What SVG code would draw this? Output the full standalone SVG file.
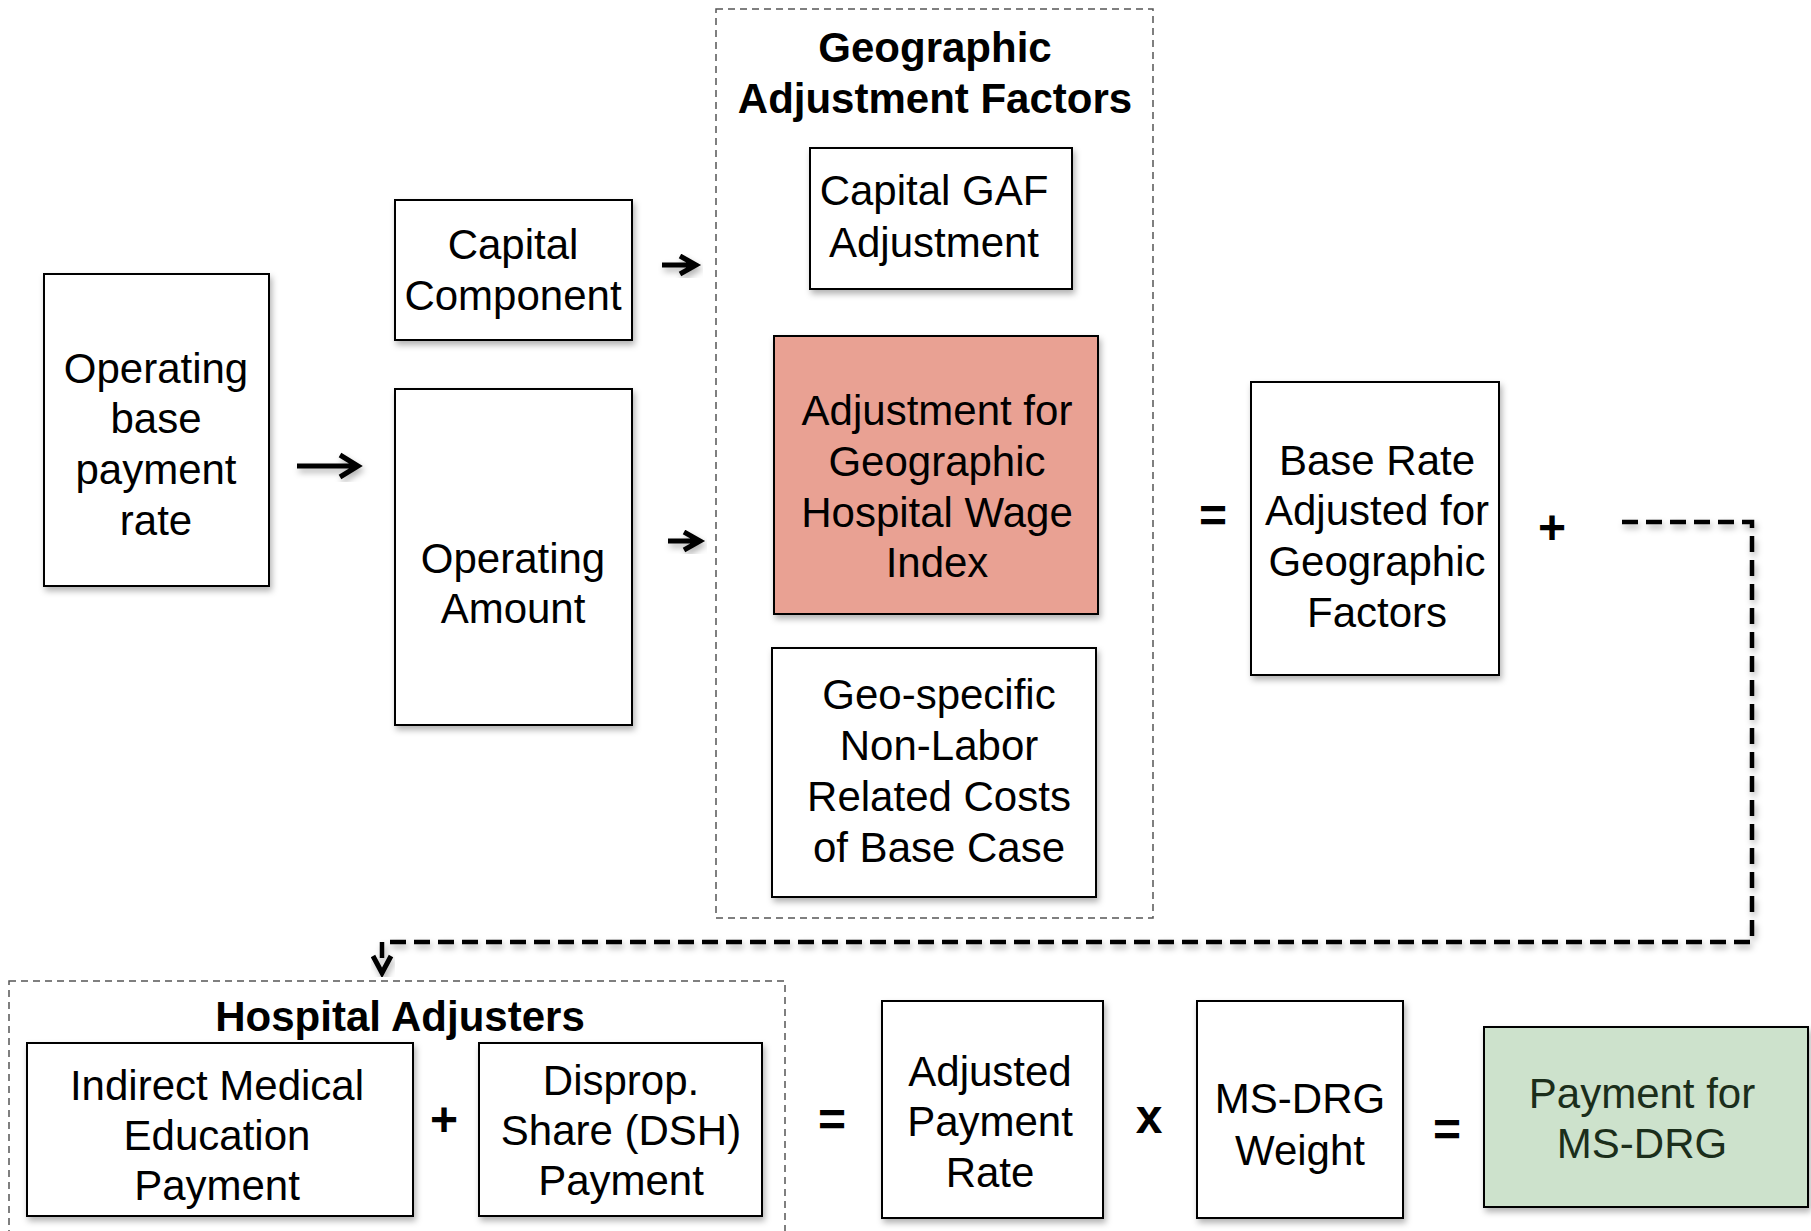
<svg xmlns="http://www.w3.org/2000/svg" width="1811" height="1231" viewBox="0 0 1811 1231">
<defs>
<filter id="sh" x="-10%" y="-10%" width="130%" height="130%">
<feDropShadow dx="2" dy="4" stdDeviation="3" flood-color="#000" flood-opacity="0.3"/>
</filter>
</defs>
<style>
.box{fill:#fff;stroke:#000;stroke-width:2;filter:url(#sh)}
.t{font-family:"Liberation Sans",Arial,sans-serif;font-size:42px;fill:#000;text-anchor:middle}
.b{font-family:"Liberation Sans",Arial,sans-serif;font-size:42px;font-weight:bold;fill:#000;text-anchor:middle}
.op{font-family:"Liberation Sans",Arial,sans-serif;font-size:48px;font-weight:bold;fill:#000;text-anchor:middle}
.grp{fill:none;stroke:#555;stroke-width:1.5;stroke-dasharray:7 5}
.arr{fill:none;stroke:#000;stroke-width:5;stroke-linecap:butt;stroke-linejoin:miter;filter:url(#sh)}
</style>
<rect width="1811" height="1231" fill="#fff"/>

<g id="geo-group">
<rect class="grp" x="716" y="9" width="437" height="909"/>
<text class="b"><tspan x="935" y="62">Geographic</tspan><tspan x="935" y="113">Adjustment Factors</tspan></text>
</g>
<g id="hosp-group">
<rect class="grp" x="9" y="981" width="776" height="270"/>
<text class="b" x="400" y="1031">Hospital Adjusters</text>
</g>

<g id="n-opbase">
<rect class="box" x="44" y="274" width="225" height="312"/>
<text class="t"><tspan x="156" y="383">Operating</tspan><tspan x="156" y="433">base</tspan><tspan x="156" y="484">payment</tspan><tspan x="156" y="535">rate</tspan></text>
</g>
<g id="n-capcomp">
<rect class="box" x="395" y="200" width="237" height="140"/>
<text class="t"><tspan x="513" y="259">Capital</tspan><tspan x="513" y="310">Component</tspan></text>
</g>
<g id="n-opamt">
<rect class="box" x="395" y="389" width="237" height="336"/>
<text class="t"><tspan x="513" y="573">Operating</tspan><tspan x="513" y="623">Amount</tspan></text>
</g>
<g id="n-capgaf">
<rect class="box" x="810" y="148" width="262" height="141"/>
<text class="t"><tspan x="934" y="205">Capital GAF</tspan><tspan x="934" y="257">Adjustment</tspan></text>
</g>
<g id="n-wage">
<rect class="box" x="774" y="336" width="324" height="278" style="fill:#E9A193"/>
<text class="t"><tspan x="937" y="425">Adjustment for</tspan><tspan x="937" y="476">Geographic</tspan><tspan x="937" y="527">Hospital Wage</tspan><tspan x="937" y="577">Index</tspan></text>
</g>
<g id="n-nonlabor">
<rect class="box" x="772" y="648" width="324" height="249"/>
<text class="t"><tspan x="939" y="709">Geo-specific</tspan><tspan x="939" y="760">Non-Labor</tspan><tspan x="939" y="811">Related Costs</tspan><tspan x="939" y="862">of Base Case</tspan></text>
</g>
<g id="n-baserate">
<rect class="box" x="1251" y="382" width="248" height="293"/>
<text class="t"><tspan x="1377" y="475">Base Rate</tspan><tspan x="1377" y="525">Adjusted for</tspan><tspan x="1377" y="576">Geographic</tspan><tspan x="1377" y="627">Factors</tspan></text>
</g>
<g id="n-ime">
<rect class="box" x="27" y="1043" width="386" height="173"/>
<text class="t"><tspan x="217" y="1100">Indirect Medical</tspan><tspan x="217" y="1150">Education</tspan><tspan x="217" y="1200">Payment</tspan></text>
</g>
<g id="n-dsh">
<rect class="box" x="479" y="1043" width="283" height="173"/>
<text class="t"><tspan x="621" y="1095">Disprop.</tspan><tspan x="621" y="1145">Share (DSH)</tspan><tspan x="621" y="1195">Payment</tspan></text>
</g>
<g id="n-adjrate">
<rect class="box" x="882" y="1001" width="221" height="217"/>
<text class="t"><tspan x="990" y="1086">Adjusted</tspan><tspan x="990" y="1136">Payment</tspan><tspan x="990" y="1187">Rate</tspan></text>
</g>
<g id="n-weight">
<rect class="box" x="1197" y="1001" width="206" height="217"/>
<text class="t"><tspan x="1300" y="1113">MS-DRG</tspan><tspan x="1300" y="1165">Weight</tspan></text>
</g>
<g id="n-payment">
<rect class="box" x="1484" y="1027" width="324" height="180" style="fill:#CDE2CC"/>
<text class="t" style="fill:#1b2e1b"><tspan x="1642" y="1108">Payment for</tspan><tspan x="1642" y="1158">MS-DRG</tspan></text>
</g>

<g id="operators">
<text class="op" x="1213" y="532">=</text>
<text class="op" x="1552" y="544">+</text>
<text class="op" x="444" y="1136">+</text>
<text class="op" x="832" y="1136">=</text>
<text class="op" x="1149" y="1133">x</text>
<text class="op" x="1447" y="1146">=</text>
</g>

<g id="connectors">
<path class="arr" d="M297,466 L357,466 M340,455 L358,466 L340,477"/>
<path class="arr" d="M662,265 L695,265 M680,256 L696,265 L680,274"/>
<path class="arr" d="M668,541 L699,541 M684,532 L700,541 L684,550"/>
<path d="M1622,522 L1752,522 L1752,942 L382,942 L382,962" fill="none" stroke="#000" stroke-width="4.5" stroke-dasharray="16 8" filter="url(#sh)"/>
<path d="M373,956 L382,973 L391,956" fill="none" stroke="#000" stroke-width="5" stroke-linejoin="miter" filter="url(#sh)"/>
</g>
</svg>
